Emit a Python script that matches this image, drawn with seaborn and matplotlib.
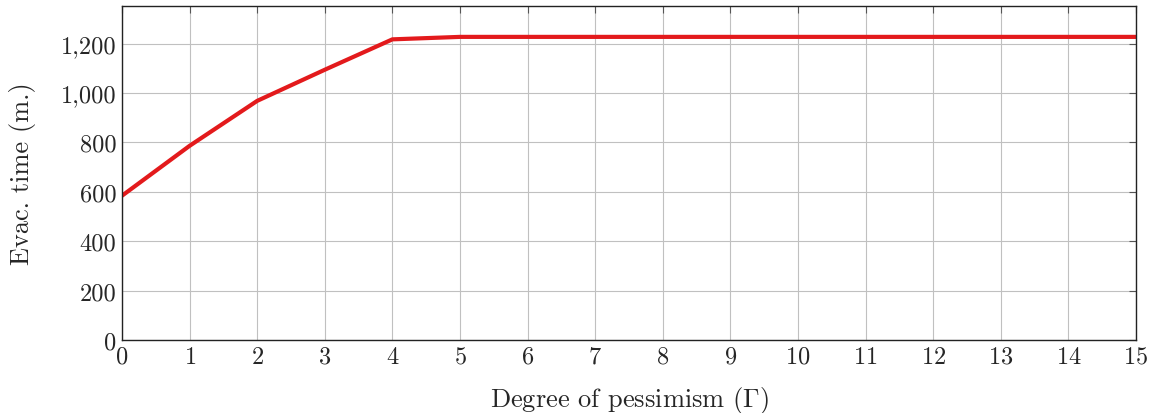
import matplotlib
matplotlib.use("Agg")
import matplotlib.pyplot as plt
import matplotlib.ticker as mticker
import pandas as pd
import seaborn as sns

# Valores
pessimismo = list(range(16))
tempo_evac = [584, 786, 968, 1094, 1217, 1227, 1227, 1227, 1227, 1227,
              1227, 1227, 1227, 1227, 1227, 1227]

df = pd.DataFrame({"gamma": pessimismo, "tempo": tempo_evac})

sns.set_theme(style="white")
plt.rcParams["font.family"] = ["serif"]
plt.rcParams["font.serif"] = ["cmr10", "DejaVu Serif"]
plt.rcParams["mathtext.fontset"] = "cm"
plt.rcParams["axes.formatter.use_mathtext"] = True

fig = plt.figure(figsize=(11.54, 4.14), dpi=100)
ax = fig.add_axes([122 / 1154, 73 / 414, (1136 - 122) / 1154, (341 - 7) / 414])

sns.lineplot(data=df, x="gamma", y="tempo", ax=ax, color="#e31a1c", linewidth=3.0)

ax.set_xlim(0, 15)
ax.set_ylim(0, 1352)
ax.set_xticks(pessimismo)
ax.set_yticks(range(0, 1201, 200))
ax.yaxis.set_major_formatter(mticker.FuncFormatter(lambda v, _: f"{int(v):,}"))

ax.grid(True, color="#c0c0c0", linewidth=0.8)
ax.set_axisbelow(True)
ax.tick_params(direction="in", length=5, width=0.8, color="#555555",
               labelsize=17.5, top=True, right=True, pad=4)
for sp in ax.spines.values():
    sp.set_color("#222222")
    sp.set_linewidth(1.0)

ax.set_xlabel(r"Degree of pessimism ($\Gamma$)", fontsize=19, labelpad=12)
ax.set_ylabel("Evac. time (m.)", fontsize=19, labelpad=18)

fig.savefig("out.png", dpi=100)
